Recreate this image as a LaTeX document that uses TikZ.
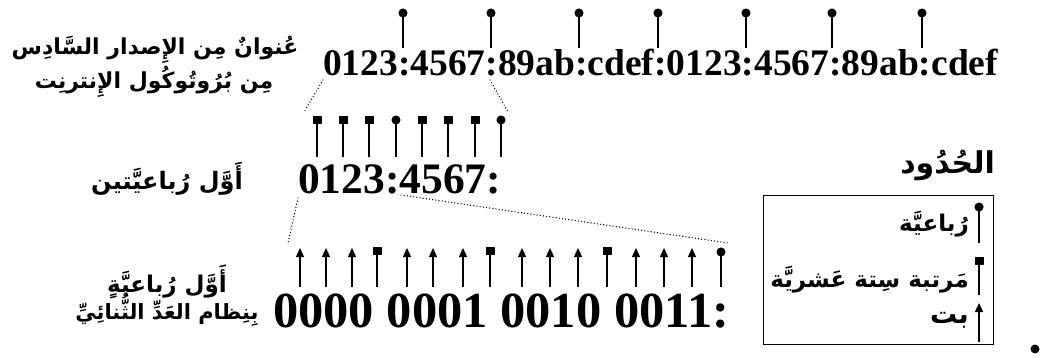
\documentclass[tikz,border=0pt]{standalone}
\usepackage{fontspec}
\setmainfont{Liberation Serif}
\newfontfamily\hexfont{Liberation Serif Bold}
\newfontfamily\ar[Script=Arabic]{DejaVu Sans Bold}
\TeXXeTstate=1
\usetikzlibrary{arrows.meta}
\tikzset{
  hexnum/.style={inner sep=0pt, anchor=base west},
  arlbl/.style={inner sep=0pt, anchor=base},
  legtxt/.style={inner sep=0pt, anchor=base east, font=\fontsize{23}{26}\selectfont\ar},
  pinline/.style={line width=1.2pt},
  qpin/.style={pinline, -{Circle[length=9pt,width=9pt]}},
  hpin/.style={pinline, -{Square[length=8pt,width=9pt,round]}},
  bpin/.style={pinline, -{Triangle[length=9pt,width=8pt]}},
  zoomline/.style={line width=1.4pt, dash pattern=on 0pt off 3.2pt, line cap=round}
}
\begin{document}
\begin{tikzpicture}[x=1pt,y=-1pt]
\useasboundingbox (0,0) rectangle (1044,358);
% hex address rows
\node[hexnum, font=\fontsize{37.5}{40}\selectfont\hexfont] (top) at (323,76) {0123:4567:89ab:cdef:0123:4567:89ab:cdef};
\node[hexnum, font=\fontsize{43.5}{46}\selectfont\hexfont] (mid) at (298,194) {0123:4567:};
\node[hexnum, font=\fontsize{50.5}{54}\selectfont\hexfont] (bot) at (273,327) {0000 0001 0010 0011:};
% pins on top row
\foreach \x in {403,491,579,658,746,832,922} \draw[qpin] (\x,48) -- (\x,8.5);
% pins on middle row
\foreach \x in {317,343,369,422,448,475} \draw[hpin] (\x,157) -- (\x,116);
\foreach \x in {396,501} \draw[qpin] (\x,157) -- (\x,115.5);
% pins on bottom row
\foreach \x in {300,326,352,407,433,463,522,550,578,636,664,692} \draw[bpin] (\x,287) -- (\x,248);
\foreach \x in {377,490,607} \draw[hpin] (\x,287) -- (\x,247);
\draw[qpin] (721,287) -- (721,247.5);
% zoom connectors
\coordinate (a1) at (323,80);
\coordinate (a1e) at (304,112);
\coordinate (a2) at (490,80);
\coordinate (a2e) at (508,112);
\coordinate (b1) at (298,198);
\coordinate (b1e) at (288,243);
\coordinate (b2) at (401,195);
\coordinate (b2e) at (728,243);
\draw[zoomline] (a1) -- (a1e);
\draw[zoomline] (a2) -- (a2e);
\draw[zoomline] (b1) -- (b1e);
\draw[zoomline] (b2) -- (b2e);
% Arabic labels
\node[arlbl, font=\fontsize{22}{26}\selectfont\ar] (lbltopa) at (155,55) {\beginR عُنوانٌ مِن الإِصدار السَّادِس\endR};
\node[arlbl, font=\fontsize{22}{26}\selectfont\ar] (lbltopb) at (154,89) {\beginR مِن بُرُوتُوكُول الإِنترنِت\endR};
\node[arlbl, font=\fontsize{24}{28}\selectfont\ar] (lblmid) at (167,190) {\beginR أَوَّل رُباعيَّتين\endR};
\node[arlbl, font=\fontsize{23}{27}\selectfont\ar] (lblbota) at (167,292) {\beginR أَوَّل رُباعيَّةٍ\endR};
\node[arlbl, font=\fontsize{21}{25}\selectfont\ar] (lblbotb) at (167,319) {\beginR بِنِظام العَدِّ الثُّنائِيِّ\endR};
% legend
\node[inner sep=0pt, anchor=base east, font=\fontsize{30}{34}\selectfont\ar] (legtitle) at (995,174) {\beginR الحُدُود\endR};
\node[draw, line width=1pt, minimum width=230pt, minimum height=149pt, anchor=north west, inner sep=0pt] (legend) at (763,195) {};
\draw[qpin] (979,243) -- (979,202.5);
\draw[hpin] (979,295) -- (979,257);
\draw[bpin] (979,342) -- (979,303);
\node[legtxt] (leg1) at (969,232) {\beginR رُباعيَّة\endR};
\node[legtxt] (leg2) at (969,287) {\beginR مَرتبة سِتة عَشريَّة\endR};
\node[legtxt, font=\fontsize{27}{30}\selectfont\ar] (leg3) at (969,323) {\beginR بت\endR};
\fill (1035,349) circle (4.5);
\end{tikzpicture}
\end{document}
